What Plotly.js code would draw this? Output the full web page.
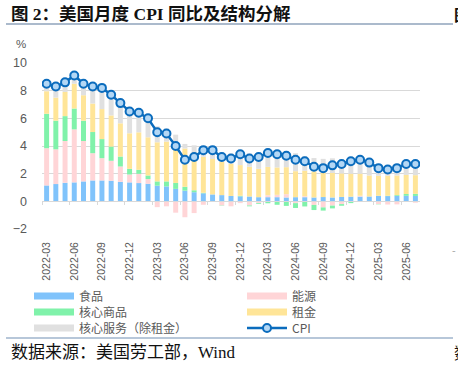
<!DOCTYPE html>
<html>
<head>
<meta charset="utf-8">
<script src="https://cdn.plot.ly/plotly-3.0.1.min.js"></script>
<style>
html,body{margin:0;padding:0;background:#fff;}
#chart{width:458px;height:366px;}
</style>
</head>
<body>
<div id="chart"></div>
<script>
const months = ['2022-03','2022-04','2022-05','2022-06','2022-07','2022-08','2022-09','2022-10','2022-11','2022-12',
'2023-01','2023-02','2023-03','2023-04','2023-05','2023-06','2023-07','2023-08','2023-09','2023-10','2023-11','2023-12',
'2024-01','2024-02','2024-03','2024-04','2024-05','2024-06','2024-07','2024-08','2024-09','2024-10','2024-11','2024-12',
'2025-01','2025-02','2025-03','2025-04','2025-05','2025-06','2025-07'];

const tickLabels = ['2022-03','2022-06','2022-09','2022-12','2023-03','2023-06','2023-09','2023-12',
'2024-03','2024-06','2024-09','2024-12','2025-03','2025-06'];

const food = [1.15,1.25,1.34,1.37,1.44,1.51,1.51,1.49,1.41,1.37,1.32,1.27,1.13,1.08,0.90,0.77,0.66,0.58,0.50,0.45,0.39,0.36,
0.35,0.30,0.30,0.30,0.28,0.30,0.30,0.28,0.31,0.28,0.32,0.34,0.34,0.35,0.40,0.38,0.39,0.40,0.39];

const energy = [2.69,2.51,3.02,3.83,2.92,1.97,1.61,1.44,1.11,0.57,0.67,0.34,-0.42,-0.36,-0.82,-1.15,-0.85,-0.25,-0.03,-0.30,-0.36,-0.13,
-0.30,-0.12,0.14,0.17,0.24,-0.13,0.07,-0.26,-0.44,-0.31,-0.20,-0.03,0.06,-0.01,-0.20,-0.23,-0.22,-0.05,-0.10];

const coreGoods = [2.49,2.07,1.80,1.51,1.47,1.53,1.38,1.03,0.72,0.41,0.29,0.26,0.31,0.36,0.43,0.28,0.14,0.04,0.00,-0.02,0.00,0.04,
-0.06,-0.06,-0.14,-0.25,-0.33,-0.35,-0.37,-0.37,-0.23,-0.20,-0.12,-0.10,-0.02,-0.02,-0.02,0.02,0.06,0.13,0.15];

const rent = [1.63,1.67,1.75,1.79,1.84,2.06,2.17,2.25,2.40,2.57,2.71,2.76,2.83,2.88,2.85,2.77,2.74,2.60,2.56,2.40,2.32,2.22,
2.15,2.05,2.05,1.98,1.95,1.88,1.84,1.88,1.77,1.77,1.70,1.66,1.60,1.52,1.45,1.45,1.42,1.38,1.35];

const coreServices = [0.54,0.80,0.69,0.60,0.83,1.23,1.53,1.49,1.46,1.58,1.41,1.37,1.15,0.94,0.64,0.33,0.51,0.73,0.67,0.67,0.75,0.91,
0.96,1.03,1.15,1.20,1.16,1.30,1.06,0.97,0.99,1.06,1.00,1.03,1.02,0.96,0.77,0.68,0.75,0.84,0.91];

const cpi = [8.5,8.3,8.6,9.1,8.5,8.3,8.2,7.7,7.1,6.5,6.4,6.0,5.0,4.9,4.0,3.0,3.2,3.7,3.7,3.2,3.1,3.4,
3.1,3.2,3.5,3.4,3.3,3.0,2.9,2.5,2.4,2.6,2.7,2.9,3.0,2.8,2.4,2.3,2.4,2.7,2.7];

const seriesNames = ['食品','能源','核心商品','租金','核心服务（除租金）','CPI'];

const C = {
  food:'#80c3fb', energy:'#ffd5d7', goods:'#80f2aa', rent:'#ffe598', serv:'#e0e0e0',
  cpi:'#0b6cbd', cpiFill:'#b3d7f5'
};

function bar(name, y, color){
  return {type:'bar', name:name, x:months, y:y, marker:{color:color, line:{width:0}},
          showlegend:false, hoverinfo:'x+y+name'};
}
function proxy(name, color, legend){
  return {type:'scatter', mode:'lines', name:name, x:[null], y:[null],
          line:{color:color, width:7}, legend:legend, showlegend:true, hoverinfo:'skip'};
}

const data = [
  bar(seriesNames[0], food, C.food),
  bar(seriesNames[1], energy, C.energy),
  bar(seriesNames[2], coreGoods, C.goods),
  bar(seriesNames[3], rent, C.rent),
  bar(seriesNames[4], coreServices, C.serv),
  {type:'scatter', mode:'lines+markers', name:seriesNames[5], x:months, y:cpi,
   line:{color:C.cpi, width:2.5},
   marker:{size:8, color:C.cpiFill, line:{color:C.cpi, width:2}},
   legend:'legend6', showlegend:true},
  proxy(seriesNames[0], C.food, 'legend'),
  proxy(seriesNames[1], C.energy, 'legend2'),
  proxy(seriesNames[2], C.goods, 'legend3'),
  proxy(seriesNames[3], C.rent, 'legend4'),
  proxy(seriesNames[4], C.serv, 'legend5'),
  {type:'scatter', x:[null], y:[null], xaxis:'x2', yaxis:'y', showlegend:false, hoverinfo:'skip'}
];

const boundaryTicks = [];
for (let k = 0; k < tickLabels.length; k++) boundaryTicks.push(-0.5 + 3*k);

const gridC = '#d9d9d9';
const txtC = '#595959';
const cjk = '"Noto Sans CJK SC", "Liberation Sans", sans-serif';

// pixel helpers (plot area: x 42..420, y 63..229)
const px = v => (v - 42) / 378;
const py = v => (229 - v) / 166;

function leg(xp, yp){
  return {orientation:'v', yanchor:'middle', xanchor:'left', bgcolor:'rgba(0,0,0,0)',
    x:px(xp), y:py(yp),
    font:{family:cjk, size:12, color:txtC}, itemwidth:40, tracegroupgap:0,
    itemclick:false, itemdoubleclick:false};
}

const layout = {
  width:458, height:366,
  margin:{l:42, r:38, t:63, b:137, pad:0},
  paper_bgcolor:'#ffffff', plot_bgcolor:'#ffffff',
  barmode:'relative', bargap:0.46,
  showlegend:true,
  font:{family:'"Liberation Sans", Arial, sans-serif', color:txtC},
  xaxis:{type:'category', range:[-0.5, 40.5], tickmode:'array', tickvals:tickLabels, ticktext:tickLabels,
         tickangle:-90, tickfont:{size:10.5, color:txtC}, showgrid:false, showline:false, zeroline:false,
         ticks:'', ticklabelstandoff:10, fixedrange:true},
  xaxis2:{type:'linear', overlaying:'x', anchor:'free', position:2/12, range:[-0.5, 40.5],
          tickmode:'array', tickvals:boundaryTicks, ticks:'outside', ticklen:3, tickwidth:1, tickcolor:gridC,
          showticklabels:false, showline:true, linecolor:gridC, linewidth:1, showgrid:false, zeroline:false},
  yaxis:{range:[-2, 10], dtick:2, tick0:0, showgrid:true, gridcolor:gridC, gridwidth:1,
         zeroline:false, showline:false, ticks:'', ticklabelstandoff:14,
         tickfont:{size:12.5, color:txtC}, fixedrange:true},
  legend:leg(29, 296),
  legend2:leg(242, 296),
  legend3:leg(29, 312),
  legend4:leg(242, 312),
  legend5:leg(29, 328),
  legend6:leg(242, 328),
  annotations:[
    {text:'图 2：美国月度 <b>CPI</b> 同比及结构分解', xref:'paper', yref:'paper',
     x:px(9), y:py(14), xanchor:'left', yanchor:'middle', showarrow:false,
     font:{family:'"Liberation Serif", "Noto Sans CJK SC", serif', size:17.5, color:'#111111', weight:700}},
    {text:'%', xref:'paper', yref:'paper', x:px(21), y:py(44), xanchor:'center', yanchor:'middle',
     showarrow:false, font:{size:11.5, color:txtC}},
    {text:'数据来源：美国劳工部，<span style="font-family:Liberation Serif">Wind</span>', xref:'paper', yref:'paper',
     x:px(9), y:py(352), xanchor:'left', yanchor:'middle', showarrow:false,
     font:{family:'"Liberation Serif", "Noto Sans CJK SC", serif', size:17, color:'#111111'}},
    {text:'图', xref:'paper', yref:'paper', x:px(452), y:py(14), xanchor:'left', yanchor:'middle',
     showarrow:false, font:{family:cjk, size:16, color:'#111111', weight:700}},
    {text:'-', xref:'paper', yref:'paper', x:px(450), y:py(250), xanchor:'left', yanchor:'middle',
     showarrow:false, font:{size:11, color:'#aaaaaa'}},
    {text:'数', xref:'paper', yref:'paper', x:px(452), y:py(352), xanchor:'left', yanchor:'middle',
     showarrow:false, font:{family:cjk, size:16, color:'#111111'}}
  ],
  shapes:[
    {type:'line', xref:'paper', yref:'paper', x0:px(6), x1:px(453), y0:py(24), y1:py(24),
     line:{color:'#8fa3bb', width:1.5}},
    {type:'line', xref:'paper', yref:'paper', x0:px(6), x1:px(453), y0:py(338), y1:py(338),
     line:{color:'#9fb4cc', width:1.5}}
  ]
};

Plotly.newPlot('chart', data, layout, {displayModeBar:false, staticPlot:true});
</script>
</body>
</html>
